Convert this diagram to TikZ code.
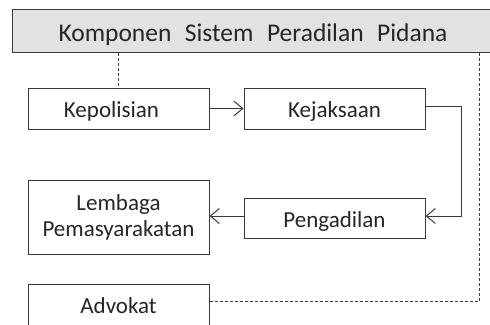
\documentclass[tikz,border=0pt]{standalone}
\usepackage{fontspec}
\setmainfont{Carlito}
\usetikzlibrary{arrows.meta}
\definecolor{ln}{HTML}{3A3A3A}
\definecolor{tx}{HTML}{262626}
\definecolor{hd}{HTML}{E2E2E2}
\tikzset{
  box/.style={draw=ln, line width=1pt, fill=white, text=tx, minimum width=181pt, inner sep=0pt, align=center, font=\fontsize{23}{26}\selectfont},
  one/.style={text height=22.4pt, text depth=4pt},
  flow/.style={draw=ln, line width=1pt, -{Straight Barb[length=9pt,width=15pt,line width=1pt]}},
  dashline/.style={draw=ln, line width=1pt, dash pattern=on 3pt off 2pt}
}
\newcommand{\gp}{\hspace{13.5pt}}
\begin{document}
\begin{tikzpicture}[x=1pt,y=-1pt]
\useasboundingbox (0,0) rectangle (490,324);
\node[box, fill=hd, minimum width=482pt, minimum height=43pt, font=\fontsize{25.5}{28}\selectfont, text height=25.6pt, text depth=4pt] (title) at (253,30.5) {Komponen\gp Sistem\gp Peradilan\gp Pidana};
\node[box, one, minimum height=41pt] (kep) at (118.5,108.5) {Kepolisian\hspace*{14pt}};
\node[box, one, minimum height=41pt] (kej) at (334.5,108.5) {Kejaksaan};
\node[box, minimum height=74pt] (lem) at (118.5,217) {Lembaga\\Pemasyarakatan};
\node[box, one, minimum height=40pt] (pen) at (334.5,218) {Pengadilan};
\node[box, minimum height=44pt, text height=18pt, text depth=4pt] (adv) at (118.5,306) {Advokat};
\coordinate (c) at (479,301);
\draw[dashline] (kep.north |- title.south) -- (kep.north);
\draw[dashline] (title.south -| c) -- (c) -- (c -| adv.east);
\draw[flow] (kep.east) -- (kej.west);
\draw[flow] ([yshift=2.5pt]kej.east) -- ++(36,0) |- ([yshift=2pt]pen.east);
\draw[flow] ([yshift=2pt]pen.west) -- ([yshift=2pt]lem.east |- pen.west);
\end{tikzpicture}
\end{document}
